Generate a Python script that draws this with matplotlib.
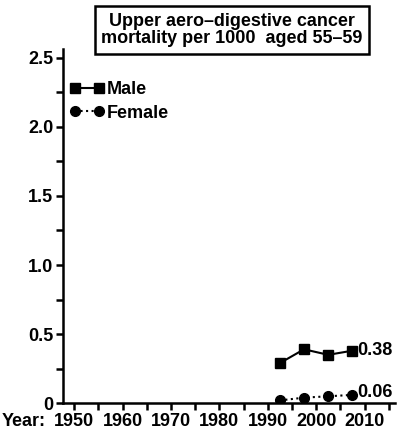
import matplotlib
matplotlib.use("Agg")
import matplotlib.pyplot as plt
from matplotlib.ticker import MultipleLocator, FixedLocator

plt.rcParams['font.family'] = ['Liberation Sans', 'DejaVu Sans']
plt.rcParams['font.weight'] = 'bold'

# data
years = [1992.5, 1997.5, 2002.5, 2007.5]
male = [0.29, 0.39, 0.35, 0.38]
female = [0.02, 0.04, 0.05, 0.06]
year_ticks = [1950, 1960, 1970, 1980, 1990, 2000, 2010]
y_ticks = [0, 0.5, 1.0, 1.5, 2.0, 2.5]
y_labels = ['0', '0.5', '1.0', '1.5', '2.0', '2.5']

fs = 13

fig = plt.figure(figsize=(3.99, 4.34), dpi=100)
ax = fig.add_axes([0.158, 0.071, 0.832, 0.815])

ax.plot(years, male, '-', color='black', marker='s', markersize=7, lw=1.5, label='Male')
ax.plot(years, female, ':', color='black', marker='o', markersize=7, lw=1.5, label='Female')

ax.text(years[-1] + 1.0, male[-1], f'{male[-1]:.2f}', fontsize=fs, fontweight='bold', va='center')
ax.text(years[-1] + 1.0, female[-1] + 0.02, f'{female[-1]:.2f}', fontsize=fs, fontweight='bold', va='center')

ax.set_xlim(1947.7, 2016.3)
ax.set_ylim(0, 2.56)
ax.xaxis.set_major_locator(FixedLocator(year_ticks))
ax.xaxis.set_minor_locator(MultipleLocator(5))
ax.yaxis.set_major_locator(FixedLocator(y_ticks))
ax.yaxis.set_minor_locator(MultipleLocator(0.25))
ax.set_yticklabels(y_labels)
ax.set_xticklabels([str(y) for y in year_ticks])

for s in ['top', 'right']:
    ax.spines[s].set_visible(False)
for s in ['left', 'bottom']:
    ax.spines[s].set_linewidth(1.8)
ax.tick_params(which='both', width=1.8, length=5, direction='out', labelsize=fs, pad=2)
for lab in ax.get_xticklabels() + ax.get_yticklabels():
    lab.set_fontweight('bold')

fig.text(0.005, 0.029, 'Year:', fontsize=fs, fontweight='bold', va='center')

leg = ax.legend(loc='upper left', bbox_to_anchor=(0.02, 0.91), frameon=False, numpoints=2,
                handlelength=1.95, handletextpad=0.1, labelspacing=0.35, borderaxespad=0,
                borderpad=0, prop={'weight': 'bold', 'size': fs})

fig.text(0.581, 0.931, 'Upper aero\u2013digestive cancer\nmortality per 1000  aged 55\u201359',
         ha='center', va='center', fontsize=fs, fontweight='bold', linespacing=1.05,
         bbox=dict(boxstyle='square,pad=0.35', fc='white', ec='black', lw=1.8))

fig.savefig('out.png', dpi=100)
